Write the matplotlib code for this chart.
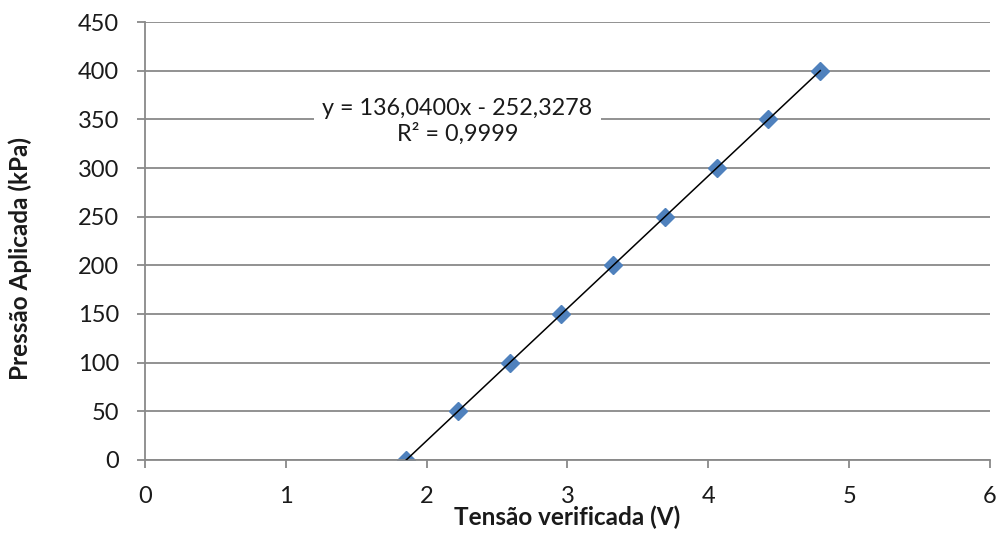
import numpy as np
import matplotlib.pyplot as plt

tensao = [1.855, 2.222, 2.590, 2.957, 3.325, 3.692, 4.060, 4.427, 4.795]
pressao = [0, 50, 100, 150, 200, 250, 300, 350, 400]
eq_text = "y = 136,0400x - 252,3278\nR² = 0,9999"

plt.rcParams["font.family"] = ["Lato", "DejaVu Sans"]

fig = plt.figure(figsize=(10.02, 5.33), dpi=100)
ax = fig.add_axes([0.1447, 0.137, 0.8433, 0.8217])

grid_c = "#898989"
ax.set_xlim(0, 6)
ax.set_ylim(0, 450)
ax.set_xticks(range(0, 7))
ax.set_yticks(range(0, 451, 50))
ax.yaxis.grid(True, color=grid_c, lw=1.3)
ax.set_axisbelow(True)
for s in ["top", "right"]:
    ax.spines[s].set_visible(False)
for s in ["left", "bottom"]:
    ax.spines[s].set_color(grid_c)
    ax.spines[s].set_linewidth(1.3)
ax.tick_params(axis="both", direction="out", length=5.8, width=1.3, color=grid_c,
               labelsize=17, labelcolor="#1a1a1a", pad=13)

# linear trendline from the points
coef = np.polyfit(tensao, pressao, 1)
xs = np.array([tensao[0], tensao[-1]])
ax.plot(xs, np.polyval(coef, xs), color="black", lw=1.1, zorder=3)
ax.plot(tensao, pressao, ls="none", marker="D", ms=9.5, color="#4F81BD",
        mec="#4F81BD", zorder=2)

ax.text(2.219, 348, eq_text, ha="center", va="center", fontsize=16.8,
        linespacing=1.2, color="#1a1a1a",
        bbox=dict(facecolor="white", edgecolor="none", pad=6))

ax.set_xlabel("Tensão verificada (V)", fontsize=17.5, fontweight="bold", color="#1a1a1a")
ax.xaxis.label.set_va("baseline")
ax.xaxis.set_label_coords(0.5, -0.148)
ax.set_ylabel("Pressão Aplicada (kPa)", fontsize=17.5, fontweight="bold", color="#1a1a1a")
ax.yaxis.label.set_va("center")
ax.yaxis.set_label_coords(-0.148, 0.461)

fig.savefig("out.png", dpi=100)
